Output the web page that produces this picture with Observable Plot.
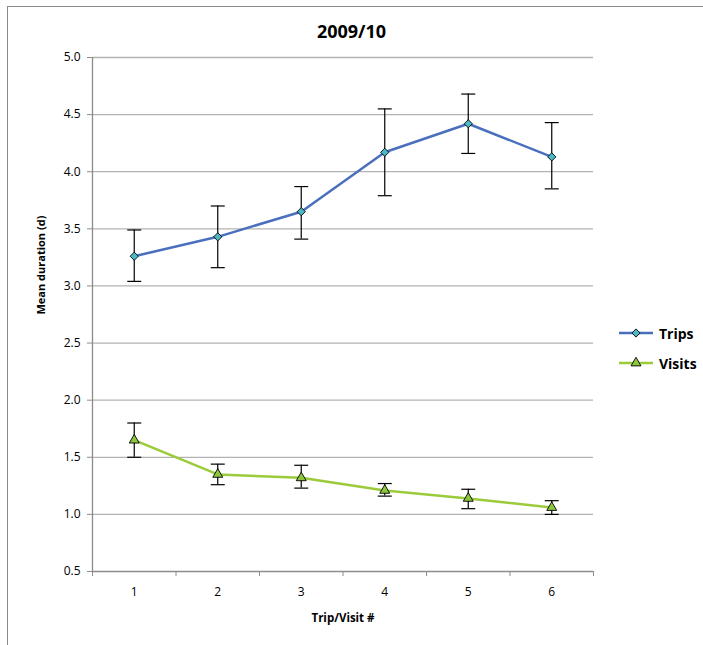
<!DOCTYPE html>
<html>
<head>
<meta charset="utf-8">
<script src="https://cdn.jsdelivr.net/npm/d3@7"></script>
<script src="https://cdn.jsdelivr.net/npm/@observablehq/plot@0.6"></script>
<style>
  html, body { margin: 0; padding: 0; background: #fff; }
  #wrap { position: relative; width: 703px; height: 645px; overflow: hidden; font-family: "Open Sans", sans-serif; }
  #border { position: absolute; left: 7px; top: 6px; width: 760px; height: 700px; border: 1.5px solid #8a8a8a; box-sizing: border-box; pointer-events: none; }
  #title { position: absolute; left: 0; width: 703px; top: 18px; text-align: center; font-weight: bold; font-size: 18px; line-height: 26px; }
  #legend { position: absolute; left: 619px; top: 318px; }
  .item { display: flex; align-items: center; height: 30px; font-weight: bold; font-size: 14px; }
  .item svg { margin-right: 4px; }
</style>
</head>
<body>
<div id="wrap">
  <div id="border"></div>
  <div id="title"></div>
  <div id="chart"></div>
  <div id="legend"></div>
</div>
<script>
const title = "2009/10";
const yLabel = "Mean duration (d)";
const xLabel = "Trip/Visit #";
const categories = [1, 2, 3, 4, 5, 6];
const categoryBounds = [0.5, 1.5, 2.5, 3.5, 4.5, 5.5, 6.5];
const yTicks = [0.5, 1.0, 1.5, 2.0, 2.5, 3.0, 3.5, 4.0, 4.5, 5.0];

const seriesNames = ["Trips", "Visits"];
const tripsMean = [3.26, 3.43, 3.65, 4.17, 4.42, 4.13];
const tripsLow  = [3.04, 3.16, 3.41, 3.79, 4.16, 3.85];
const tripsHigh = [3.49, 3.70, 3.87, 4.55, 4.68, 4.43];
const visitsMean = [1.65, 1.35, 1.32, 1.21, 1.14, 1.06];
const visitsLow  = [1.50, 1.26, 1.23, 1.16, 1.05, 1.00];
const visitsHigh = [1.80, 1.44, 1.43, 1.27, 1.22, 1.12];

const lineColors = ["#4a6fbd", "#9bcb3b"];
const markerFills = ["#4bb8c8", "#8cc63f"];
const markerSymbols = ["diamond2", "triangle"];

const trips = categories.map((n, i) => ({n, v: tripsMean[i], lo: tripsLow[i], hi: tripsHigh[i]}));
const visits = categories.map((n, i) => ({n, v: visitsMean[i], lo: visitsLow[i], hi: visitsHigh[i]}));
const seriesData = [trips, visits];

const capSymbol = {draw(ctx) { ctx.moveTo(-7, 0); ctx.lineTo(7, 0); }};

document.getElementById("title").textContent = title;

const marks = [
  Plot.gridY(yTicks.slice(1), {stroke: "#b3b3b3", strokeOpacity: 1, strokeWidth: 1.3}),
  Plot.ruleX([0.5], {stroke: "#8c8c8c", strokeWidth: 1.3}),
  Plot.ruleY([0.5], {stroke: "#8c8c8c", strokeWidth: 1.3}),
  Plot.axisY(yTicks, {tickFormat: d3.format(".1f"), tickSize: 5, tickPadding: 7, stroke: "#8c8c8c", label: null, fontSize: 12}),
  Plot.axisX(categoryBounds, {tickFormat: () => "", tickSize: 5, stroke: "#8c8c8c", label: null}),
  Plot.axisX(categories, {tickSize: 0, tickPadding: 16, label: null, fontSize: 12}),
  Plot.text([yLabel], {text: d => d, frameAnchor: "left", dx: -51, rotate: -90, fontWeight: "bold", fontSize: 11}),
  Plot.text([xLabel], {text: d => d, frameAnchor: "bottom", dy: 50, fontWeight: "bold", fontSize: 11.5})
];
seriesData.forEach((rows, k) => {
  marks.push(
    Plot.ruleX(rows, {x: "n", y1: "lo", y2: "hi", stroke: "#000", strokeWidth: 1.2}),
    Plot.dot(rows, {x: "n", y: "lo", symbol: capSymbol, fill: "none", stroke: "#000", strokeWidth: 1.2, r: 3}),
    Plot.dot(rows, {x: "n", y: "hi", symbol: capSymbol, fill: "none", stroke: "#000", strokeWidth: 1.2, r: 3}),
    Plot.line(rows, {x: "n", y: "v", stroke: lineColors[k], strokeWidth: 2.5}),
    Plot.dot(rows, {x: "n", y: "v", symbol: markerSymbols[k], fill: markerFills[k], stroke: "#000", strokeWidth: 0.9, r: k === 0 ? 3.7 : 3.7})
  );
});

const chart = Plot.plot({
  width: 703,
  height: 645,
  marginLeft: 92,
  marginRight: 110,
  marginTop: 57,
  marginBottom: 74,
  x: {type: "linear", domain: [0.5, 6.5]},
  y: {type: "linear", domain: [0.5, 5]},
  style: {fontFamily: "Open Sans, sans-serif", color: "#000", background: "transparent"},
  marks
});
document.getElementById("chart").appendChild(chart);

const legend = document.getElementById("legend");
seriesNames.forEach((name, k) => {
  const item = document.createElement("div");
  item.className = "item";
  const svg = d3.create("svg").attr("width", 36).attr("height", 14);
  svg.append("line").attr("x1", 0).attr("x2", 34).attr("y1", 7).attr("y2", 7)
    .attr("stroke", lineColors[k]).attr("stroke-width", 2.5);
  const sym = k === 0 ? d3.symbolDiamond2 : d3.symbolTriangle;
  const size = Math.PI * 3.7 * 3.7;
  svg.append("path").attr("d", d3.symbol(sym, size)()).attr("transform", "translate(17,7)")
    .attr("fill", markerFills[k]).attr("stroke", "#000").attr("stroke-width", 0.9);
  item.appendChild(svg.node());
  const span = document.createElement("span");
  span.textContent = name;
  item.appendChild(span);
  legend.appendChild(item);
});
</script>
</body>
</html>
